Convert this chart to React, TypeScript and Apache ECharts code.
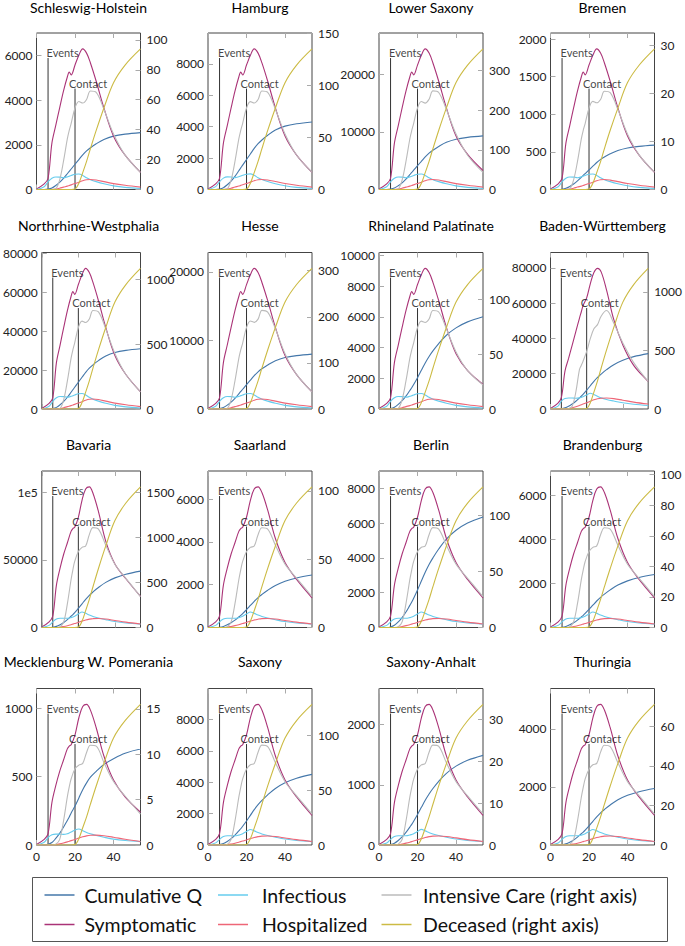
import React, { useEffect, useRef } from "react";
import * as echarts from "echarts";

// ---------- data ----------
const DAYS = [0, 4, 6, 8, 10, 12, 14, 16, 17, 18, 20, 22, 24, 26, 28, 31, 35, 40, 46, 54];
const EVENTS_DAY = 6;
const CONTACT_DAY = 20;
const X_TICKS = [0, 20, 40];

// Schleswig-Holstein
const SH_Q = [0, 0, 18, 69, 179, 319, 497, 706, 816, 918, 1132, 1341, 1550, 1729, 1869, 2048, 2244, 2392, 2481, 2550];
const SH_S = [25, 252, 504, 2080, 2870, 3650, 4410, 5040, 5260, 5130, 5580, 6020, 6300, 6110, 5670, 4850, 3650, 2390, 1540, 770];
const SH_I = [0, 126, 347, 504, 561, 554, 529, 567, 599, 630, 680, 693, 630, 523, 441, 353, 258, 164, 95, 44];
const SH_H = [0, 0, 0, 0, 19, 57, 107, 151, 183, 208, 265, 328, 391, 435, 447, 422, 353, 265, 189, 107];
const SH_C = [0, 0, 0, 0, 0.5, 6.3, 18.8, 33.8, 39.5, 44.2, 54.5, 58.8, 57.8, 60.2, 65.8, 64.9, 53.6, 37.1, 23, 11.5];
const SH_D = [0, 0, 0, 0, 0, 0, 0, 0, 0, 0, 0.3, 4.2, 11.3, 18.8, 27.3, 39.5, 54.5, 71.4, 83.2, 94];

// Hamburg
const HH_Q = [0, 0, 30, 116, 301, 538, 839, 1191, 1376, 1548, 1909, 2262, 2614, 2915, 3152, 3453, 3784, 4033, 4184, 4300];
const HH_S = [36, 358, 716, 2950, 4070, 5190, 6260, 7160, 7470, 7290, 7920, 8540, 8950, 8680, 8060, 6890, 5190, 3400, 2190, 1090];
const HH_I = [0, 181, 497, 722, 804, 795, 759, 813, 858, 903, 975, 993, 903, 749, 632, 506, 370, 235, 135, 63];
const HH_H = [0, 0, 0, 0, 27, 81, 154, 217, 262, 298, 379, 470, 560, 623, 641, 605, 506, 379, 271, 154];
const HH_C = [0, 0, 0, 0, 0.7, 9, 27, 48.6, 56.7, 63.5, 78.3, 84.4, 83, 86.4, 94.5, 93.2, 77, 53.3, 33.1, 16.5];
const HH_D = [0, 0, 0, 0, 0, 0, 0, 0, 0, 0, 0.4, 6.1, 16.2, 27, 39.2, 56.7, 78.3, 102.6, 119.5, 135];

// Lower Saxony
const NI_Q = [0, 0, 65, 251, 651, 1163, 1814, 2576, 2976, 3348, 4129, 4892, 5654, 6305, 6817, 7468, 8184, 8723, 9049, 9300];
const NI_S = [98, 976, 1950, 8050, 11100, 14150, 17080, 19520, 20370, 19890, 21590, 23300, 24400, 23670, 21960, 18790, 14150, 9270, 6100, 3300];
const NI_I = [0, 488, 1342, 1952, 2172, 2147, 2050, 2196, 2318, 2440, 2635, 2684, 2440, 2025, 1708, 1366, 1000, 634, 366, 171];
const NI_H = [0, 0, 0, 0, 73, 220, 415, 586, 708, 805, 1025, 1269, 1513, 1684, 1732, 1635, 1366, 1025, 732, 415];
const NI_C = [0, 0, 0, 0, 1.75, 23.8, 71, 127.5, 149, 167, 206, 222, 218, 228, 249, 245, 202, 140, 86.6, 43.3];
const NI_D = [0, 0, 0, 0, 0, 0, 0, 0, 0, 0, 1.1, 16, 42.6, 71, 103, 149, 206, 270, 314, 355];

// Bremen
const HB_Q = [0, 0, 4, 16, 41, 74, 115, 163, 189, 212, 262, 310, 359, 400, 432, 474, 519, 553, 574, 590];
const HB_S = [7.5, 75, 150, 617, 851, 1085, 1309, 1496, 1561, 1524, 1655, 1786, 1870, 1814, 1683, 1440, 1085, 711, 458, 228];
const HB_I = [0, 37, 103, 150, 166, 165, 157, 168, 178, 187, 202, 206, 187, 155, 131, 105, 77, 49, 28, 13];
const HB_H = [0, 0, 0, 0, 6, 17, 32, 45, 54, 62, 79, 97, 116, 129, 133, 125, 105, 79, 56, 32];
const HB_C = [0, 0, 0, 0, 0.15, 2, 5.8, 10.5, 12.3, 13.7, 16.9, 18.3, 18, 18.7, 20.4, 20.1, 16.6, 11.5, 7.2, 3.6];
const HB_D = [0, 0, 0, 0, 0, 0, 0, 0, 0, 0, 0.1, 1.3, 3.5, 5.8, 8.5, 12.3, 16.9, 22.2, 25.8, 29.2];

// Northrhine-Westphalia
const NW_Q = [0, 0, 217, 837, 2170, 3875, 6045, 8587, 9920, 11160, 13764, 16306, 18848, 21018, 22723, 24893, 27280, 29078, 30163, 31000];
const NW_S = [289, 2890, 5780, 23860, 32900, 41930, 50610, 57840, 60370, 58920, 63990, 69050, 72300, 70130, 65070, 55670, 41930, 27470, 17710, 8820];
const NW_I = [0, 1446, 3977, 5784, 6435, 6362, 6073, 6507, 6869, 7230, 7808, 7953, 7230, 6001, 5061, 4049, 2964, 1880, 1085, 506];
const NW_H = [0, 0, 0, 0, 217, 651, 1229, 1735, 2097, 2386, 3037, 3760, 4483, 4989, 5133, 4844, 4049, 3037, 2169, 1229];
const NW_C = [0, 0, 0, 0, 5, 73, 217, 391, 456, 510, 629, 678, 667, 694, 760, 749, 618, 429, 266, 132];
const NW_D = [0, 0, 0, 0, 0, 0, 0, 0, 0, 0, 3, 49, 130, 217, 315, 456, 629, 825, 960, 1085];

// Hesse
const HE_Q = [0, 0, 56, 216, 560, 1000, 1560, 2216, 2560, 2880, 3552, 4208, 4864, 5424, 5864, 6424, 7040, 7504, 7784, 8000];
const HE_S = [82, 820, 1640, 6770, 9330, 11890, 14350, 16400, 17120, 16710, 18140, 19580, 20500, 19890, 18450, 15790, 11890, 7790, 5020, 2500];
const HE_I = [0, 410, 1128, 1640, 1825, 1804, 1722, 1845, 1948, 2050, 2214, 2255, 2050, 1702, 1435, 1148, 841, 533, 308, 144];
const HE_H = [0, 0, 0, 0, 62, 185, 349, 492, 595, 677, 861, 1066, 1271, 1415, 1456, 1374, 1148, 861, 615, 349];
const HE_C = [0, 0, 0, 0, 1.5, 20.4, 61, 110, 128, 143, 177, 191, 188, 195, 214, 210, 174, 120, 75, 37];
const HE_D = [0, 0, 0, 0, 0, 0, 0, 0, 0, 0, 0.9, 13.7, 36.6, 61, 88.5, 128, 177, 232, 270, 305];

// Rhineland Palatinate
const RP_Q = [0, 0, 30, 120, 300, 540, 840, 1200, 1380, 1590, 2040, 2520, 3000, 3420, 3780, 4260, 4800, 5280, 5670, 6000];
const RP_S = [37, 366, 732, 3020, 4160, 5310, 6400, 7320, 7640, 7460, 8100, 8740, 9150, 8880, 8240, 7050, 5310, 3600, 2500, 1600];
const RP_I = [0, 183, 503, 732, 814, 805, 769, 824, 869, 915, 988, 1007, 915, 759, 641, 512, 375, 238, 137, 64];
const RP_H = [0, 0, 0, 0, 27, 82, 156, 220, 265, 302, 384, 476, 567, 631, 650, 613, 512, 384, 275, 156];
const RP_C = [0, 0, 0, 0, 0.6, 8.6, 25.6, 46, 53.8, 60.2, 74.2, 80, 78.7, 81.9, 89.6, 88.3, 73, 52, 35, 22];
const RP_D = [0, 0, 0, 0, 0, 0, 0, 0, 0, 0, 0.4, 5.8, 15.4, 25.6, 37.1, 53.8, 74.2, 97.3, 113.3, 128];

// Baden-Württemberg
const BW_Q = [0, 0, 157, 628, 1570, 2826, 4396, 6280, 7222, 8321, 10676, 13188, 15700, 17898, 19782, 22294, 25120, 27632, 29673, 31400];
const BW_S = [319, 3190, 6380, 21520, 28690, 36260, 43840, 51410, 54990, 58580, 62960, 70930, 77310, 79700, 77710, 67350, 50610, 36260, 24710, 15620];
const BW_I = [0, 1500, 4500, 6000, 6200, 6200, 6100, 6300, 6600, 7000, 8000, 8900, 8200, 7200, 6300, 5400, 4500, 3500, 2700, 2000];
const BW_H = [0, 0, 0, 0, 200, 700, 1300, 2000, 2400, 2800, 3500, 4400, 5200, 5800, 6100, 6200, 5900, 5000, 3900, 2800];
const BW_C = [0, 0, 0, 0, 5, 24, 144, 336, 372, 408, 492, 600, 684, 720, 792, 840, 732, 564, 396, 235];
const BW_D = [0, 0, 0, 0, 0, 0, 0, 0, 0, 0, 3.6, 54, 144, 240, 348, 504, 696, 912, 1062, 1200];

// Bavaria
const BY_Q = [0, 0, 209, 834, 2085, 3753, 5838, 8340, 9591, 11051, 14178, 17514, 20850, 23769, 26271, 29607, 33360, 36696, 39407, 41700];
const BY_S = [418, 4180, 8360, 31350, 43890, 54340, 62700, 71060, 73150, 74200, 81510, 94050, 102410, 103980, 99280, 85690, 63750, 47020, 36050, 22990];
const BY_I = [0, 1568, 4180, 6270, 6793, 6793, 6793, 7315, 7838, 8360, 9928, 11495, 10450, 9196, 8151, 7002, 5748, 4389, 3344, 2508];
const BY_H = [0, 0, 0, 0, 209, 732, 1359, 2090, 2508, 2926, 3762, 4703, 5539, 6166, 6584, 6688, 6270, 5225, 3971, 2613];
const BY_C = [0, 0, 0, 0, 8, 62, 265, 530, 640, 733, 842, 889, 905, 1030, 1108, 1092, 913, 702, 546, 343];
const BY_D = [0, 0, 0, 0, 0, 0, 0, 0, 0, 0, 4.7, 70, 187, 312, 452, 655, 905, 1186, 1381, 1560];

// Saarland
const SL_Q = [0, 0, 12, 49, 123, 221, 343, 490, 564, 649, 833, 1029, 1225, 1397, 1544, 1740, 1960, 2156, 2315, 2450];
const SL_S = [26, 264, 528, 1980, 2772, 3432, 3960, 4488, 4620, 4686, 5148, 5940, 6468, 6567, 6303, 5478, 4158, 3036, 2244, 1386];
const SL_I = [0, 99, 264, 396, 429, 429, 429, 462, 495, 528, 627, 726, 660, 581, 515, 442, 363, 277, 211, 158];
const SL_H = [0, 0, 0, 0, 13, 46, 86, 132, 158, 185, 238, 297, 350, 389, 416, 422, 396, 330, 251, 165];
const SL_C = [0, 0, 0, 0, 0.5, 4.1, 17.5, 35, 42.2, 48.4, 55.6, 58.7, 59.7, 68, 73.1, 72.1, 60.3, 46.4, 36.1, 22.7];
const SL_D = [0, 0, 0, 0, 0, 0, 0, 0, 0, 0, 0.3, 4.6, 12.4, 20.6, 29.9, 43.3, 59.7, 78.3, 91.2, 103];

// Berlin
const BE_Q = [0, 0, 32, 127, 318, 572, 889, 1270, 1461, 1683, 2159, 2667, 3175, 3620, 4001, 4509, 5080, 5588, 6001, 6350];
const BE_S = [32, 325, 650, 2436, 3410, 4222, 4872, 5522, 5684, 5765, 6334, 7308, 7958, 8079, 7755, 6740, 5116, 3735, 2761, 1705];
const BE_I = [0, 122, 325, 487, 528, 528, 528, 568, 609, 650, 771, 893, 812, 715, 633, 544, 447, 341, 260, 195];
const BE_H = [0, 0, 0, 0, 16, 57, 106, 162, 195, 227, 292, 365, 430, 479, 512, 520, 487, 406, 309, 203];
const BE_C = [0, 0, 0, 0, 0.6, 5, 21.3, 42.5, 51.3, 58.8, 67.5, 71.3, 72.5, 82.5, 88.8, 87.5, 73.1, 56.3, 43.8, 27.5];
const BE_D = [0, 0, 0, 0, 0, 0, 0, 0, 0, 0, 0.4, 5.6, 15, 25, 36.3, 52.5, 72.5, 95, 110.6, 125];

// Brandenburg
const BB_Q = [0, 0, 12, 48, 120, 216, 336, 480, 552, 636, 816, 1008, 1200, 1368, 1512, 1704, 1920, 2112, 2268, 2400];
const BB_S = [26, 256, 512, 1920, 2688, 3328, 3840, 4352, 4480, 4544, 4992, 5760, 6272, 6368, 6112, 5312, 4032, 2944, 2176, 1344];
const BB_I = [0, 96, 256, 384, 416, 416, 416, 448, 480, 512, 608, 704, 640, 563, 499, 429, 352, 269, 205, 154];
const BB_H = [0, 0, 0, 0, 13, 45, 83, 128, 154, 179, 230, 288, 339, 378, 403, 410, 384, 320, 243, 160];
const BB_C = [0, 0, 0, 0, 0.5, 3.7, 15.6, 31.3, 37.7, 43.2, 49.7, 52.4, 53.4, 60.7, 65.3, 64.4, 53.8, 41.4, 32.2, 20.2];
const BB_D = [0, 0, 0, 0, 0, 0, 0, 0, 0, 0, 0.3, 4.1, 11, 18.4, 26.7, 38.6, 53.4, 69.9, 81.4, 92];

// Mecklenburg W. Pomerania
const MV_Q = [0, 0, 5, 18, 48, 85, 130, 180, 205, 235, 285, 345, 405, 455, 497, 540, 590, 632, 672, 703];
const MV_S = [4, 41, 83, 311, 435, 538, 621, 704, 725, 735, 807, 932, 1014, 1030, 988, 859, 652, 476, 352, 240];
const MV_I = [0, 20, 55, 75, 80, 80, 78, 82, 88, 95, 110, 117, 105, 92, 82, 70, 57, 43, 33, 25];
const MV_H = [0, 0, 0, 0, 2, 8, 15, 23, 28, 32, 41, 51, 60, 67, 71, 72, 68, 57, 42, 26];
const MV_C = [0, 0, 0, 0, 0.08, 0.6, 2.6, 5.3, 6.4, 7.3, 8.4, 8.8, 9, 10.2, 11, 10.9, 9.1, 7, 5.4, 3.4];
const MV_D = [0, 0, 0, 0, 0, 0, 0, 0, 0, 0, 0.05, 0.7, 1.9, 3.1, 4.5, 6.5, 9, 11.8, 13.7, 15.5];

// Saxony
const SN_Q = [0, 0, 23, 90, 225, 405, 630, 900, 1035, 1193, 1530, 1890, 2250, 2565, 2835, 3195, 3600, 3960, 4253, 4500];
const SN_S = [36, 360, 720, 2700, 3780, 4680, 5400, 6120, 6300, 6390, 7020, 8100, 8820, 8955, 8595, 7470, 5670, 4140, 3060, 1890];
const SN_I = [0, 135, 360, 540, 585, 585, 585, 630, 675, 720, 855, 990, 900, 792, 702, 603, 495, 378, 288, 216];
const SN_H = [0, 0, 0, 0, 18, 63, 117, 180, 216, 252, 324, 405, 477, 531, 567, 576, 540, 450, 342, 225];
const SN_C = [0, 0, 0, 0, 0.6, 5.1, 21.8, 43.5, 52.5, 60.2, 69.1, 73, 74.2, 84.5, 90.9, 89.6, 74.9, 57.6, 44.8, 28.2];
const SN_D = [0, 0, 0, 0, 0, 0, 0, 0, 0, 0, 0.4, 5.8, 15.4, 25.6, 37.1, 53.8, 74.2, 97.3, 113.3, 128];

// Saxony-Anhalt
const ST_Q = [0, 0, 7, 30, 75, 134, 209, 298, 343, 395, 507, 626, 745, 849, 939, 1058, 1192, 1311, 1408, 1490];
const ST_S = [9, 94, 188, 705, 987, 1222, 1410, 1598, 1645, 1669, 1833, 2115, 2303, 2338, 2244, 1951, 1481, 1081, 799, 494];
const ST_I = [0, 35, 94, 141, 153, 153, 153, 165, 176, 188, 223, 259, 235, 207, 183, 157, 129, 99, 75, 56];
const ST_H = [0, 0, 0, 0, 5, 16, 31, 47, 56, 66, 85, 106, 125, 139, 148, 150, 141, 118, 89, 59];
const ST_C = [0, 0, 0, 0, 0.2, 1.3, 5.7, 11.4, 13.7, 15.7, 18.1, 19.1, 19.4, 22.1, 23.8, 23.5, 19.6, 15.1, 11.7, 7.4];
const ST_D = [0, 0, 0, 0, 0, 0, 0, 0, 0, 0, 0.1, 1.5, 4, 6.7, 9.7, 14.1, 19.4, 25.5, 29.6, 33.5];

// Thuringia
const TH_Q = [0, 0, 10, 39, 97, 175, 272, 389, 447, 515, 661, 817, 973, 1109, 1225, 1381, 1556, 1712, 1838, 1945];
const TH_S = [19, 195, 390, 1461, 2045, 2532, 2922, 3312, 3409, 3458, 3799, 4383, 4773, 4846, 4651, 4042, 3068, 2240, 1656, 1023];
const TH_I = [0, 73, 195, 292, 317, 317, 317, 341, 365, 390, 463, 536, 487, 429, 380, 326, 268, 205, 156, 117];
const TH_H = [0, 0, 0, 0, 10, 34, 63, 97, 117, 136, 175, 219, 258, 287, 307, 312, 292, 244, 185, 122];
const TH_C = [0, 0, 0, 0, 0.4, 2.8, 12.1, 24.1, 29.1, 33.4, 38.3, 40.5, 41.2, 46.9, 50.4, 49.7, 41.5, 32, 24.9, 15.6];
const TH_D = [0, 0, 0, 0, 0, 0, 0, 0, 0, 0, 0.2, 3.2, 8.5, 14.2, 20.6, 29.8, 41.2, 54, 62.8, 71];

const STATE_NAMES = [
  "Schleswig-Holstein", "Hamburg", "Lower Saxony", "Bremen",
  "Northrhine-Westphalia", "Hesse", "Rhineland Palatinate", "Baden-Württemberg",
  "Bavaria", "Saarland", "Berlin", "Brandenburg",
  "Mecklenburg W. Pomerania", "Saxony", "Saxony-Anhalt", "Thuringia",
];
const LEFT_STEP = [2000, 2000, 10000, 500, 20000, 10000, 2000, 20000, 50000, 2000, 2000, 2000, 500, 2000, 1000, 2000];
const RIGHT_STEP = [20, 50, 100, 10, 500, 100, 50, 500, 500, 50, 50, 20, 5, 50, 10, 20];

const SERIES_NAMES = ["Cumulative Q", "Symptomatic", "Infectious", "Hospitalized", "Intensive Care (right axis)", "Deceased (right axis)"];
const COLORS = ["#4477AA", "#AA3377", "#66CCEE", "#EE6677", "#BBBBBB", "#CCBB44"];

// ---------- option building ----------
const TABLE = [
  [SH_Q, SH_S, SH_I, SH_H, SH_C, SH_D],
  [HH_Q, HH_S, HH_I, HH_H, HH_C, HH_D],
  [NI_Q, NI_S, NI_I, NI_H, NI_C, NI_D],
  [HB_Q, HB_S, HB_I, HB_H, HB_C, HB_D],
  [NW_Q, NW_S, NW_I, NW_H, NW_C, NW_D],
  [HE_Q, HE_S, HE_I, HE_H, HE_C, HE_D],
  [RP_Q, RP_S, RP_I, RP_H, RP_C, RP_D],
  [BW_Q, BW_S, BW_I, BW_H, BW_C, BW_D],
  [BY_Q, BY_S, BY_I, BY_H, BY_C, BY_D],
  [SL_Q, SL_S, SL_I, SL_H, SL_C, SL_D],
  [BE_Q, BE_S, BE_I, BE_H, BE_C, BE_D],
  [BB_Q, BB_S, BB_I, BB_H, BB_C, BB_D],
  [MV_Q, MV_S, MV_I, MV_H, MV_C, MV_D],
  [SN_Q, SN_S, SN_I, SN_H, SN_C, SN_D],
  [ST_Q, ST_S, ST_I, ST_H, ST_C, ST_D],
  [TH_Q, TH_S, TH_I, TH_H, TH_C, TH_D],
];

const COL_LEFT = [36.5, 208, 379, 550.5];
const ROW_TOP = [33, 252.5, 471, 688.5];
const PW = 104;
const PH = 156.5;
const FONT = "Lato";

function tickList(max: number, step: number) {
  const out: number[] = [];
  for (let v = 0; v <= max + 1e-9; v += step) out.push(v);
  return out;
}
function fmt(step: number) {
  return (v: number) => {
    if (Math.abs(v / step - Math.round(v / step)) > 1e-6) return "";
    if (v === 100000) return "1e5";
    return String(v);
  };
}

function buildOption() {
  const grid: any[] = [];
  const xAxis: any[] = [];
  const yAxis: any[] = [];
  const series: any[] = [];
  const title: any[] = [];

  TABLE.forEach((arrs, k) => {
    const r = Math.floor(k / 4);
    const c = k % 4;
    const left = COL_LEFT[c];
    const top = ROW_TOP[r];
    grid.push({ left, top, width: PW, height: PH, show: true, borderColor: "#444", borderWidth: 1, containLabel: false });
    title.push({
      text: STATE_NAMES[k], left: left + PW / 2, top: Math.max(0, top - 34), textAlign: "center", padding: 0,
      textStyle: { fontSize: 14, fontWeight: "normal", color: "#000", fontFamily: FONT },
    });
    const tickCommon = { show: true, inside: true, length: 5, lineStyle: { color: "#aaa", width: 1 } };
    xAxis.push({
      gridIndex: k, type: "value", min: 0, max: 54, interval: 20, position: "bottom",
      axisLine: { show: false, onZero: false }, splitLine: { show: false },
      axisTick: { ...tickCommon, customValues: X_TICKS },
      axisLabel: { show: r === 3, customValues: X_TICKS, formatter: fmt(20), fontSize: 12, color: "#222", margin: 5, fontFamily: FONT },
    });
    xAxis.push({
      gridIndex: k, type: "value", min: 0, max: 54, interval: 20, position: "top",
      axisLine: { show: false, onZero: false }, splitLine: { show: false },
      axisTick: { ...tickCommon, customValues: X_TICKS }, axisLabel: { show: false },
    });
    const leftMax = Math.max(...arrs[0], ...arrs[1], ...arrs[2], ...arrs[3]) * 1.113;
    const rightMax = Math.max(...arrs[4], ...arrs[5]) * 1.113;
    const lt = tickList(leftMax, LEFT_STEP[k]);
    const rt = tickList(rightMax, RIGHT_STEP[k]);
    yAxis.push({
      gridIndex: k, type: "value", position: "left", min: 0, max: leftMax, interval: LEFT_STEP[k],
      axisLine: { show: false, onZero: false }, splitLine: { show: false },
      axisTick: { ...tickCommon, customValues: lt },
      axisLabel: { customValues: lt, formatter: fmt(LEFT_STEP[k]), fontSize: 12, color: "#222", margin: 4, fontFamily: FONT },
    });
    yAxis.push({
      gridIndex: k, type: "value", position: "right", min: 0, max: rightMax, interval: RIGHT_STEP[k],
      axisLine: { show: false, onZero: false }, splitLine: { show: false },
      axisTick: { ...tickCommon, customValues: rt },
      axisLabel: { customValues: rt, formatter: fmt(RIGHT_STEP[k]), fontSize: 12, color: "#222", margin: 6, fontFamily: FONT },
    });
    yAxis.push({ gridIndex: k, type: "value", position: "right", min: 0, max: 1, show: false });

    const xi = 2 * k;
    const yL = 3 * k;
    const yR = 3 * k + 1;
    const yH = 3 * k + 2;

    series.push({
      type: "line", name: "events-line", xAxisIndex: xi, yAxisIndex: yH, silent: true, symbol: "none", z: 1,
      data: [[EVENTS_DAY, 0], [EVENTS_DAY, 0.84]], lineStyle: { color: "#333", width: 1 },
    });
    series.push({
      type: "line", name: "contact-line", xAxisIndex: xi, yAxisIndex: yH, silent: true, symbol: "none", z: 1,
      data: [[CONTACT_DAY, 0], [CONTACT_DAY, 0.645]], lineStyle: { color: "#333", width: 1 },
    });

    arrs.forEach((arr, si) => {
      series.push({
        type: "line", name: SERIES_NAMES[si], xAxisIndex: xi, yAxisIndex: si >= 4 ? yR : yL,
        data: DAYS.map((d, j) => [d, arr[j]]),
        smooth: 0.35, symbol: "none", silent: true, z: 2,
        lineStyle: { color: COLORS[si], width: 1.1 }, itemStyle: { color: COLORS[si] },
      });
    });

    series.push({
      type: "scatter", name: "marker-labels", xAxisIndex: xi, yAxisIndex: yH, silent: true, z: 10,
      symbolSize: 0.01, itemStyle: { color: "transparent" },
      data: [
        { value: [EVENTS_DAY, 0.84], label: { formatter: "Events", position: [-1.5, 0] } },
        { value: [CONTACT_DAY, 0.645], label: { formatter: "Contact", position: [-6, 0] } },
      ],
      label: { show: true, align: "left", verticalAlign: "bottom", fontSize: 11, color: "#111", fontFamily: FONT },
    });
  });

  const legendBase = {
    orient: "vertical", top: 885, itemWidth: 30, itemHeight: 1.5, icon: "rect", itemGap: 9.5,
    selectedMode: false, padding: 0,
  };
  const legend = [
    { ...legendBase, left: 44.5, data: ["Cumulative Q", "Symptomatic"], textStyle: { fontSize: 19.5, color: "#111", fontFamily: FONT, padding: [0, 0, 0, 5] } },
    { ...legendBase, left: 218, data: ["Infectious", "Hospitalized"], textStyle: { fontSize: 19.5, color: "#111", fontFamily: FONT, padding: [0, 0, 0, 9] } },
    { ...legendBase, left: 381.5, data: ["Intensive Care (right axis)", "Deceased (right axis)"], textStyle: { fontSize: 19.5, color: "#111", fontFamily: FONT, padding: [0, 0, 0, 6.5] } },
  ];

  return {
    animation: false,
    backgroundColor: "#fff",
    textStyle: { fontFamily: FONT },
    title, grid, xAxis, yAxis, series, legend,
    graphic: [
      { type: "rect", shape: { x: 32.5, y: 877.5, width: 635, height: 64 }, style: { fill: "none", stroke: "#555", lineWidth: 1 }, silent: true },
    ],
  };
}

export default function App() {
  const ref = useRef<HTMLDivElement>(null);
  useEffect(() => {
    if (!ref.current) return;
    const chart = echarts.init(ref.current, null, { renderer: "svg" });
    chart.setOption(buildOption() as any);
    return () => chart.dispose();
  }, []);
  return <div ref={ref} style={{ position: "fixed", left: 0, top: 0, width: 685, height: 946, background: "#fff" }} />;
}
